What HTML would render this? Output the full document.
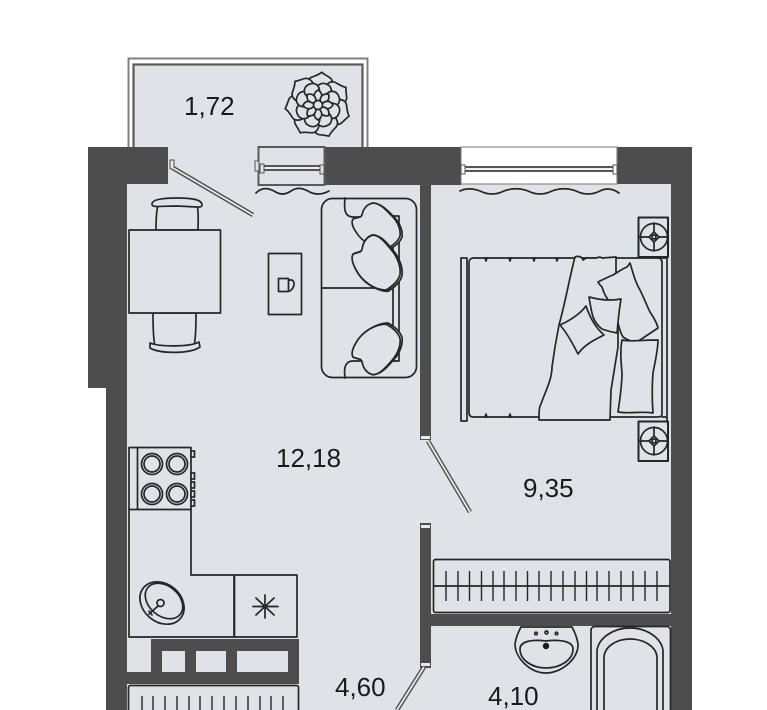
<!DOCTYPE html>
<html><head><meta charset="utf-8"><style>
html,body{margin:0;padding:0;background:#fff;width:767px;height:710px;overflow:hidden}
svg{display:block}
text{font-family:"Liberation Sans",sans-serif;font-size:26px;fill:#1a1a1a}
.l{fill:none;stroke:#262626;stroke-width:1.7;stroke-linejoin:round;stroke-linecap:round}
.f{fill:#dfe3e7;stroke:#262626;stroke-width:1.7;stroke-linejoin:round}
</style></head><body>
<svg width="767" height="710" viewBox="0 0 767 710" xmlns="http://www.w3.org/2000/svg">
<defs>
<path id="p1" class="f" d="M0,-6 C-13,-12 -15,-24 -9,-27 C-5,-29 -2,-30 1,-33 C5,-30 9,-29 11,-27 C15,-22 12,-12 0,-6Z"/>
<path id="p2" class="f" d="M0,-5 C-9,-10 -9,-18 -5,-21 C-3,-23 3,-23 5,-21 C9,-18 9,-10 0,-5Z"/>
<path id="p3" class="f" d="M0,-3 C-5,-7 -5,-12 0,-15 C5,-12 5,-7 0,-3Z"/>
<path id="pil" d="M373,203 C380,203 386,210 392,216 C398,222 401,230 400,236 C398,242 392,246 386,249 C375,249 362,242 356,232 C352,226 351,222 353,219 C357,217 361,218 362,215 C363,209 367,204 373,203Z"/>
</defs>
<rect width="767" height="710" fill="#fff"/>

<!-- balcony -->
<rect x="128.500" y="58.500" width="239" height="95" fill="#fff" stroke="#808080" stroke-width="2"/>
<rect x="133.500" y="64.500" width="229" height="90" fill="#dfe3e7" stroke="#5a5a5a" stroke-width="2.200"/>

<!-- floor -->
<rect x="126" y="147" width="545" height="563" fill="#dfe3e7"/>

<!-- walls -->
<g fill="#4d4d4d">
<path d="M88,147 H168 V184 H127 V710 H106 V388 H88Z"/>
<rect x="325" y="147" width="136" height="38"/>
<path d="M617,147 H692 V710 H671 V184 H617Z"/>
<rect x="420" y="184" width="11" height="256"/>
<rect x="420" y="523" width="11" height="145"/>
<rect x="431" y="614" width="240" height="12"/>
<path d="M151,639 H299 V684 H127 V672 H151Z"/>
</g>
<rect x="162" y="651" width="23" height="21" fill="#dfe3e7"/>
<rect x="196" y="651" width="30" height="21" fill="#dfe3e7"/>
<rect x="237" y="651" width="51" height="21" fill="#dfe3e7"/>

<!-- door jambs -->
<rect x="421" y="436" width="9" height="3" fill="#e8eaec"/>
<rect x="421" y="525" width="9" height="3" fill="#e8eaec"/>
<rect x="421" y="663" width="9" height="3" fill="#e8eaec"/>

<!-- windows -->
<rect x="258.500" y="147" width="66" height="38" fill="#dfe3e7" stroke="#5a5a5a" stroke-width="2"/>
<rect x="262" y="166" width="60" height="4" fill="#eef0f2" stroke="#444" stroke-width="1.800"/>
<rect x="255" y="161" width="4" height="10" fill="#dfe3e7" stroke="#555"/>
<rect x="260" y="164" width="4" height="9" fill="#dfe3e7" stroke="#555"/>
<rect x="320" y="165" width="4" height="9" fill="#dfe3e7" stroke="#555"/>
<rect x="461" y="147" width="156" height="37" fill="#fff" stroke="#777"/>
<rect x="463" y="167" width="152" height="4" fill="#eef0f2" stroke="#444" stroke-width="1.800"/>
<rect x="461" y="165" width="4" height="9" fill="#fff" stroke="#555"/>
<rect x="613" y="165" width="4" height="9" fill="#fff" stroke="#555"/>
<path class="l" d="M256,193 C262,187 268,188 274,191 C280,195 285,195 291,191 C297,187 302,188 308,191 C314,195 322,195 329,191"/>
<path class="l" d="M460,191 C466,188 472,188 480,191 C488,195 496,195 504,191 C512,188 520,188 528,191 C536,195 544,195 552,191 C560,188 568,188 576,191 C584,195 592,195 600,191 C606,188 612,188 619,193"/>

<!-- doors -->
<rect x="170" y="160" width="4" height="9" fill="#e8eaec" stroke="#444"/>
<path d="M173,168 L253,215" stroke="#4d4d4d" stroke-width="4.500" fill="none"/>
<path d="M173,168 L253,215" stroke="#e6e8ea" stroke-width="1.800" fill="none"/>
<path d="M428,441 L470,512" stroke="#4d4d4d" stroke-width="4.500" fill="none"/>
<path d="M428,441 L470,512" stroke="#e6e8ea" stroke-width="1.800" fill="none"/>
<path d="M424,667 L397,710" stroke="#4d4d4d" stroke-width="4.500" fill="none"/>
<path d="M424,667 L397,710" stroke="#e6e8ea" stroke-width="1.800" fill="none"/>

<!-- flower -->
<g transform="translate(318,105)">
<use href="#p1" transform="rotate(5)"/><use href="#p1" transform="rotate(56)"/><use href="#p1" transform="rotate(108)"/><use href="#p1" transform="rotate(159)"/><use href="#p1" transform="rotate(211)"/><use href="#p1" transform="rotate(262)"/><use href="#p1" transform="rotate(314)"/>
<use href="#p2" transform="rotate(22)"/><use href="#p2" transform="rotate(67)"/><use href="#p2" transform="rotate(112)"/><use href="#p2" transform="rotate(157)"/><use href="#p2" transform="rotate(202)"/><use href="#p2" transform="rotate(247)"/><use href="#p2" transform="rotate(292)"/><use href="#p2" transform="rotate(337)"/>
<use href="#p3" transform="rotate(0)"/><use href="#p3" transform="rotate(45)"/><use href="#p3" transform="rotate(90)"/><use href="#p3" transform="rotate(135)"/><use href="#p3" transform="rotate(180)"/><use href="#p3" transform="rotate(225)"/><use href="#p3" transform="rotate(270)"/><use href="#p3" transform="rotate(315)"/>
<circle r="4.500" class="f"/>
</g>

<!-- dining -->
<path class="f" d="M156,230 C156,222 156,212 158,205 H197 C199,212 198,222 198,230Z"/>
<path class="f" d="M152,204 C152,199 165,198 177,198 C190,198 202,199 202,205 C202,208 199,207 177,206 C158,206 152,208 152,204Z"/>
<path class="f" d="M153,313 C153,325 153,338 155,346 H194 C196,338 196,325 196,313Z"/>
<path class="f" d="M150,343 C160,347 190,347 199,342 L200,347 C190,354 160,354 150,348Z"/>
<rect x="129" y="230" width="91.500" height="83" class="f"/>

<!-- coffee table -->
<rect x="268.500" y="253.500" width="33" height="61" class="f"/>
<rect x="278.500" y="278.500" width="10" height="13" class="f"/>
<path class="l" d="M288.500,280 H292 C295,282 295,287 290,291"/>

<!-- sofa -->
<rect x="321.500" y="198.500" width="95" height="179" rx="11" class="f"/>
<path class="l" d="M322,288 H399"/>
<path class="f" d="M393,216 H399 V361 H393Z"/>
<path class="l" d="M345,198 C344,208 344,216 352,217 H366"/>
<path class="l" d="M345,378 C344,370 344,362 352,361 H366"/>
<g class="f" style="fill:#dfe3e7;stroke:#262626;stroke-width:1.700">
<use href="#pil" transform="translate(2,1)"/>
<use href="#pil"/>
<use href="#pil" transform="matrix(1,0,0,1.200,2,-7.600)"/>
<use href="#pil" transform="matrix(1,0,0,1.200,0,-8.600)"/>
<use href="#pil" transform="matrix(1,0,0,-1.100,2,597)"/>
<use href="#pil" transform="matrix(1,0,0,-1.100,0,598)"/>
</g>

<!-- bed -->
<rect x="461" y="258" width="6" height="163" class="f"/>
<path class="f" d="M473,258 H658 C661,258 662,260 662,263 V414 C662,416 660,417 658,417 H473 C470,417 469,415 469,412 V262 C469,260 471,258 473,258Z"/>
<path class="l" d="M662,258 H667 V421 M662,417 H667"/>
<path class="l" d="M485,258 l1,3 l1,-3 M509,258 l1,3 l1,-3 M533,258 l1,3 l1,-3 M556,258 l1,3 l1,-3 M485,417 l1,-3 l1,3 M509,417 l1,-3 l1,3"/>
<path class="f" d="M575,257 C577,256 582,256 583,260 L586,258 L596,258 L600,257 L602,258 L616,257 V283 L618,323 L618,347 L611,390 L610,420 H539 C539,412 539,407 541,404 C545,392 552,380 552,367 C554,352 556,340 559,325 C566,300 570,275 575,257Z"/>
<path class="f" d="M630,263 L633,273 C635,280 637,285 640,290 C644,298 647,306 650,312 C654,318 657,323 658,328 C652,332 646,336 640,340 C636,342 630,342 623,337 C620,332 619,327 618,323 C614,314 611,306 607,298 C604,294 603,290 602,287 C600,285 599,284 598,282 C604,279 608,277 613,275 C618,272 622,269 627,267Z"/>
<path class="f" d="M622,340 C630,342 640,340 658,340 C658,350 655,362 653,373 C652,386 652,400 653,413 C640,411 630,414 618,412 C620,398 622,386 622,373 C621,362 620,350 622,340Z"/>
<path class="f" d="M589,297 C600,300 610,301 621,299 C619,310 618,322 617,333 C612,332 607,331 602,329 C598,326 595,322 593,317 C591,310 590,303 589,297Z"/>
<path class="f" d="M560,325 C571,320 580,314 586,306 C590,318 596,328 604,335 C594,340 584,345 578,354 C573,344 567,333 560,325Z"/>

<!-- nightstands -->
<g>
<rect x="638.500" y="217.500" width="29.500" height="39.500" class="f" style="stroke-width:2"/>
<circle cx="654" cy="237" r="13.500" class="f"/>
<path class="l" d="M654,223 V251 M640,237 H668"/>
<path class="f" d="M654,232 L659,237 L654,242 L649,237Z"/>
<circle cx="654" cy="237" r="2" class="f"/>
</g>
<g transform="translate(0,204)">
<rect x="638.500" y="217.500" width="29.500" height="39.500" class="f" style="stroke-width:2"/>
<circle cx="654" cy="237" r="13.500" class="f"/>
<path class="l" d="M654,223 V251 M640,237 H668"/>
<path class="f" d="M654,232 L659,237 L654,242 L649,237Z"/>
<circle cx="654" cy="237" r="2" class="f"/>
</g>

<!-- kitchen -->
<path class="f" d="M129,447.500 H191 V575 H234 V637 H129Z"/>
<path class="l" d="M129,509.500 H191 M137.500,447.500 V509.500"/>
<rect x="234.500" y="575" width="62.500" height="62" class="f"/>
<g fill="#dfe3e7" stroke="#262626" stroke-width="1.700">
<rect x="191" y="451" width="3.500" height="6"/><rect x="191" y="473" width="3.500" height="6"/><rect x="191" y="482" width="3.500" height="6"/><rect x="191" y="491" width="3.500" height="6"/><rect x="191" y="500" width="3.500" height="6"/>
<circle cx="152" cy="464" r="10.500"/><circle cx="152" cy="464" r="8"/>
<circle cx="177" cy="464" r="10.500"/><circle cx="177" cy="464" r="8"/>
<circle cx="152" cy="494" r="10.500"/><circle cx="152" cy="494" r="8"/>
<circle cx="177" cy="494" r="10.500"/><circle cx="177" cy="494" r="8"/>
</g>
<ellipse cx="162" cy="603" rx="24" ry="19" transform="rotate(40 162 603)" class="f"/>
<ellipse cx="164" cy="601" rx="21" ry="15" transform="rotate(40 164 601)" class="l"/>
<circle cx="160.500" cy="603" r="3.500" class="f"/>
<path class="l" d="M158,606 L149,614 M149,611 L152,615"/>
<path class="l" d="M265,595 V618 M253,606.500 H278 M256,598 L274,615 M274,598 L256,615"/>

<!-- wardrobes -->
<rect x="433.500" y="559.500" width="236.500" height="53" rx="2" class="f"/>
<path d="M434,586 H670" stroke="#262626" stroke-width="1.800"/>
<path stroke="#262626" stroke-width="1.400" d="M446,571V601M458,571V601M469.500,571V601M481.500,571V601M493,571V601M504,571V601M516,571V601M527.500,571V601M539,571V601M551,571V601M563,571V601M575,571V601M586.500,571V601M597,571V601M609,571V601M621,571V601M633,571V601M645,571V601M657,571V601"/>
<rect x="128.500" y="685.500" width="170" height="40" rx="2" class="f"/>
<path stroke="#262626" stroke-width="1.400" d="M142,696V720M153,696V720M165,696V720M177,696V720M189,696V720M200,696V720M212,696V720M224,696V720M236,696V720M248,696V720M260,696V720M271,696V720M283,696V720"/>

<!-- bathroom -->
<path class="f" d="M521,627 C519,631 516,636 515,644 C515,658 530,673 546,673 C562,673 579,658 578,644 C577,636 574,631 572,627Z"/>
<path class="l" d="M520,649 C520,642 530,639 546,641 C562,639 573,642 573,649 C573,660 560,668 546,668 C532,668 520,660 520,649Z"/>
<circle cx="546" cy="646" r="3.200" fill="#1a1a1a"/>
<circle cx="536" cy="633.500" r="1.300" class="f"/><circle cx="546.500" cy="632.500" r="1.500" class="f"/><circle cx="556.500" cy="633.500" r="1.300" class="f"/>
<path class="f" d="M591,630 C591,628 593,626.500 595,626.500 H667 C669,626.500 670.500,628 670.500,630 V715 H591Z"/>
<path class="l" d="M597,715 V650 C599,638 613,628 630,628 C647,628 661,638 663,650 V715"/>
<path class="l" d="M604,715 V658 C604,647 616,639 630,639 C644,639 657,647 657,658 V715"/>

<!-- labels -->
<text x="184" y="115">1,72</text>
<text x="276" y="467">12,18</text>
<text x="523" y="497">9,35</text>
<text x="335" y="696">4,60</text>
<text x="488" y="705">4,10</text>
</svg>
</body></html>
